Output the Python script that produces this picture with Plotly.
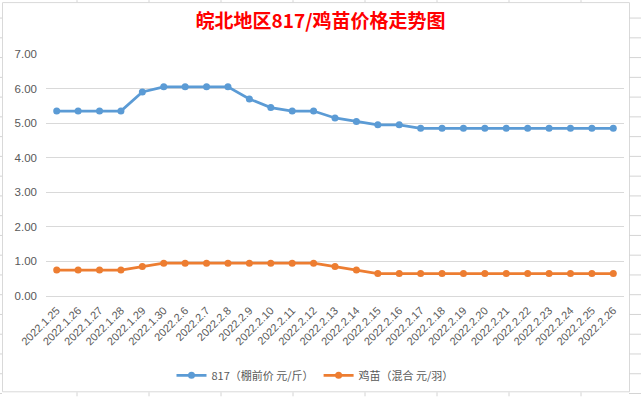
import plotly.graph_objects as go

dates = ["2022.1.25", "2022.1.26", "2022.1.27", "2022.1.28", "2022.1.29", "2022.1.30",
         "2022.2.6", "2022.2.7", "2022.2.8", "2022.2.9", "2022.2.10", "2022.2.11",
         "2022.2.12", "2022.2.13", "2022.2.14", "2022.2.15", "2022.2.16", "2022.2.17",
         "2022.2.18", "2022.2.19", "2022.2.20", "2022.2.21", "2022.2.22", "2022.2.23",
         "2022.2.24", "2022.2.25", "2022.2.26"]
price_817 = [5.35, 5.35, 5.35, 5.35, 5.90, 6.05, 6.05, 6.05, 6.05, 5.70, 5.45, 5.35,
             5.35, 5.15, 5.05, 4.95, 4.95, 4.85, 4.85, 4.85, 4.85, 4.85, 4.85, 4.85,
             4.85, 4.85, 4.85]
price_chick = [0.75, 0.75, 0.75, 0.75, 0.85, 0.95, 0.95, 0.95, 0.95, 0.95, 0.95, 0.95,
               0.95, 0.85, 0.75, 0.65, 0.65, 0.65, 0.65, 0.65, 0.65, 0.65, 0.65, 0.65,
               0.65, 0.65, 0.65]
y_ticks = [0, 1, 2, 3, 4, 5, 6, 7]
series_names = ["817（棚前价 元/斤）", "鸡苗（混合 元/羽）"]
title_text = "皖北地区817/鸡苗价格走势图"

W, H = 641, 397
L, R, T, B = 46, 17, 54, 100.5
PW, PH = W - L - R, H - T - B

def px(x):
    return (x - L) / PW

def py(y):
    return (H - B - y) / PH

fig = go.Figure()
fig.add_trace(go.Scatter(x=dates, y=price_817, name=series_names[0], mode="lines+markers",
                         line=dict(color="#5b9bd5", width=2.75),
                         marker=dict(color="#5b9bd5", size=7)))
fig.add_trace(go.Scatter(x=dates, y=price_chick, name=series_names[1], mode="lines+markers",
                         line=dict(color="#ed7d31", width=2.75),
                         marker=dict(color="#ed7d31", size=7)))

shapes = []
grid_c = "#d4d4d4"
# spreadsheet cell lines outside chart frame
for yy in [18 + 19.8 * k for k in range(20)]:
    if yy > H:
        break
    shapes.append(dict(type="line", xref="paper", yref="paper", x0=px(0), x1=px(2),
                       y0=py(yy), y1=py(yy), line=dict(color=grid_c, width=1)))
    shapes.append(dict(type="line", xref="paper", yref="paper", x0=px(629), x1=px(641),
                       y0=py(yy), y1=py(yy), line=dict(color=grid_c, width=1)))
for xx in [77 + 72 * k for k in range(8)]:
    shapes.append(dict(type="line", xref="paper", yref="paper", x0=px(xx), x1=px(xx),
                       y0=py(0), y1=py(2), line=dict(color=grid_c, width=1)))
    shapes.append(dict(type="line", xref="paper", yref="paper", x0=px(xx), x1=px(xx),
                       y0=py(393), y1=py(397), line=dict(color=grid_c, width=1)))
# chart frame
shapes.append(dict(type="rect", xref="paper", yref="paper", x0=px(2.5), x1=px(629.5),
                   y0=py(392.5), y1=py(2.5), line=dict(color="#d9d9d9", width=1),
                   layer="below"))

fig.update_layout(
    width=W, height=H,
    margin=dict(l=L, r=R, t=T, b=B, pad=0, autoexpand=False),
    paper_bgcolor="white", plot_bgcolor="white",
    title=dict(text="<b>" + title_text + "</b>", x=0.5, xanchor="center",
               y=1 - 21 / H, yanchor="middle", automargin=False,
               font=dict(family="Noto Sans CJK SC", size=19, color="#ff0000")),
    xaxis=dict(type="category", range=[-0.5, len(dates) - 0.5],
               showgrid=False, zeroline=False, showline=False,
               tickangle=-45, ticks="", ticklabelstandoff=5, automargin=False,
               tickfont=dict(family="Liberation Sans, Arial", size=11, color="#595959")),
    yaxis=dict(range=[0, 7], tickvals=y_ticks, tickformat=".2f", automargin=False,
               showgrid=True, gridcolor="#d9d9d9", gridwidth=1,
               zeroline=True, zerolinecolor="#d9d9d9", zerolinewidth=1,
               showline=False, ticks="", ticklabelstandoff=8,
               tickfont=dict(family="Liberation Sans, Arial", size=11.5, color="#595959")),
    legend=dict(orientation="h", x=px(315), xanchor="center", y=py(376), yanchor="middle",
                font=dict(family="Noto Sans CJK SC", size=11, color="#595959"),
                bgcolor="rgba(0,0,0,0)", itemwidth=30),
    shapes=shapes,
    showlegend=True,
)

fig.write_html("out.html", config={"displayModeBar": False},
               post_script="document.body.style.margin='0';")
